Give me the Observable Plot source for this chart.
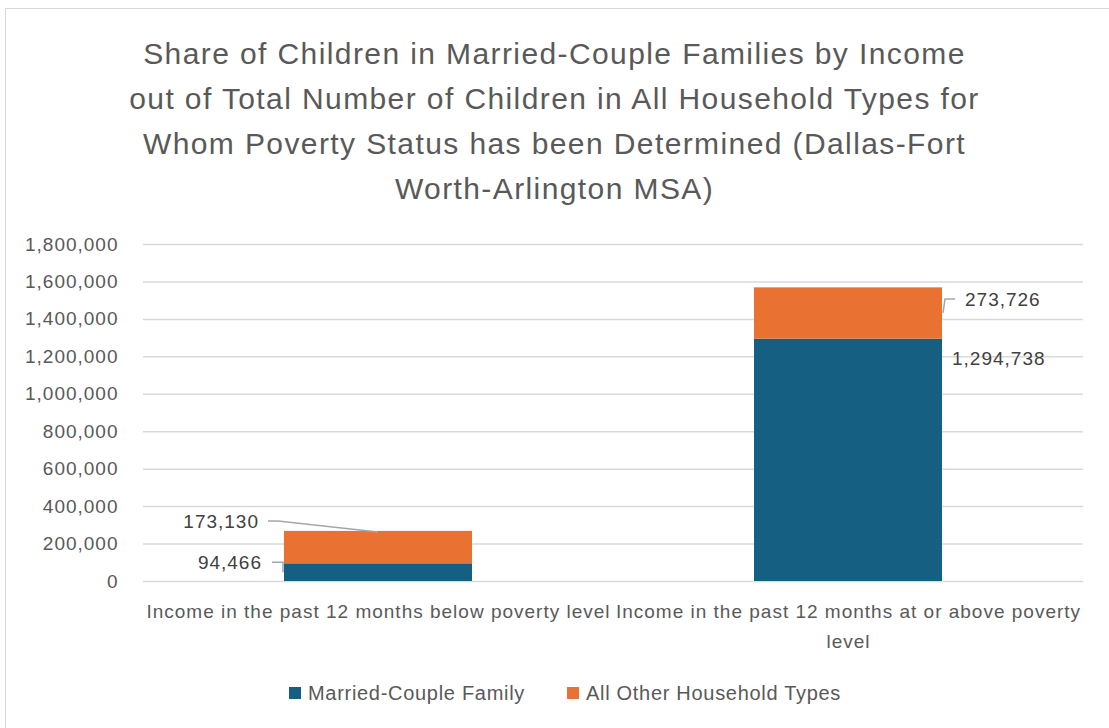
<!DOCTYPE html>
<html><head><meta charset="utf-8">
<script src="https://cdn.jsdelivr.net/npm/d3@7"></script>
<script src="https://cdn.jsdelivr.net/npm/@observablehq/plot@0.6"></script>
<style>
html,body{margin:0;padding:0;background:#fff;overflow:hidden;width:1109px;height:728px;}
#frame{position:absolute;left:5px;top:8px;width:1130px;height:760px;border:1.5px solid #d9d9d9;box-sizing:border-box;}
#title{position:absolute;left:0;top:31px;width:1109px;text-align:center;font-family:"Liberation Sans",Arial,sans-serif;font-size:30px;line-height:45px;color:#595959;letter-spacing:1.4px;}
#chart{position:absolute;left:0;top:225px;}
#legend{position:absolute;left:289px;top:681px;display:flex;align-items:center;font-family:"Liberation Sans",Arial,sans-serif;font-size:20px;color:#595959;letter-spacing:0.7px;line-height:24px;}
.item{display:flex;align-items:center;margin-right:42px;}
.sw{width:12px;height:12px;margin-right:7px;display:inline-block;}
</style></head><body>
<div id="frame"></div>
<div id="title"></div>
<div id="chart"></div>
<div id="legend"></div>
<script>
const titleLines = [
  "Share of Children in Married-Couple Families by Income",
  "out of Total Number of Children in All Household Types for",
  "Whom Poverty Status has been Determined (Dallas-Fort",
  "Worth-Arlington MSA)"
];
const categories = [
  "Income in the past 12 months below poverty level",
  "Income in the past 12 months at or above poverty level"
];
const seriesNames = ["Married-Couple Family", "All Other Household Types"];
const marriedCouple = [94466, 1294738];
const allOtherTypes = [173130, 273726];
const yTicks = [0, 200000, 400000, 600000, 800000, 1000000, 1200000, 1400000, 1600000, 1800000];
const seriesColors = ["#156082", "#E97132"];

document.getElementById("title").innerHTML = titleLines.join("<br>");

const rows = categories.flatMap((c, i) => [
  {category: c, series: seriesNames[0], value: marriedCouple[i]},
  {category: c, series: seriesNames[1], value: allOtherTypes[i]}
]);

const fmt = d3.format(",");
// the second category label wraps its last word onto a second line, as in the original
const wrapLabel = d => d === categories[1] ? d.replace(/ (\S+)$/, "\n$1") : d;

const plot = Plot.plot({
  width: 1109, height: 445,
  marginLeft: 143, marginRight: 26, marginTop: 19, marginBottom: 89,
  style: {fontFamily: "'Liberation Sans', Arial, sans-serif", color: "#595959", background: "transparent", overflow: "visible", letterSpacing: "1px"},
  x: {domain: categories, paddingInner: 0.6, paddingOuter: 0.3, label: null},
  y: {domain: [0, 1800000], label: null},
  color: {domain: seriesNames, range: seriesColors},
  marks: [
    Plot.ruleY(yTicks, {stroke: "#d9d9d9", strokeWidth: 1.5}),
    Plot.barY(rows, {x: "category", y: "value", fill: "series"}),
    Plot.axisY({ticks: yTicks, tickFormat: fmt, tickSize: 0, tickPadding: 25, fontSize: 19, label: null}),
    Plot.axisX({tickSize: 0, tickPadding: 15, fontSize: 19, lineHeight: 1.58, tickFormat: wrapLabel, label: null})
  ]
});
document.getElementById("chart").appendChild(plot);

// data labels with leader lines, positioned through Plot's scales
const xs = plot.scale("x"), ys = plot.scale("y");
const bw = xs.bandwidth;
const svg = d3.select(plot);
const g = svg.append("g");
function label(x, y, text, anchor) {
  g.append("text").attr("x", x).attr("y", y).attr("dy", "0.35em")
    .attr("text-anchor", anchor).attr("font-size", 19).attr("fill", "#404040").text(text);
}
function leader(pts) {
  g.append("path").attr("d", d3.line()(pts)).attr("fill", "none")
    .attr("stroke", "#a6a6a6").attr("stroke-width", 1.5);
}
// bar 1
{
  const x0 = xs.apply(categories[0]), cx = x0 + bw / 2;
  const yTopM = ys.apply(marriedCouple[0]);
  const yMidM = ys.apply(marriedCouple[0] / 2);
  const yTop = ys.apply(marriedCouple[0] + allOtherTypes[0]);
  label(x0 - 22, yTopM - 1, fmt(marriedCouple[0]), "end");
  leader([[x0 - 12, yTopM - 1], [x0 - 1, yTopM - 1], [x0 - 1, yMidM]]);
  label(x0 - 25, yTop - 10, fmt(allOtherTypes[0]), "end");
  leader([[x0 - 16, yTop - 10], [x0 - 6, yTop - 10], [cx, yTop + 1]]);
}
// bar 2
{
  const x1 = xs.apply(categories[1]) + bw;
  const yTopM = ys.apply(marriedCouple[1]);
  const yMidO = ys.apply(marriedCouple[1] + allOtherTypes[1] / 2);
  label(x1 + 23, yMidO - 14, fmt(allOtherTypes[1]), "start");
  leader([[x1 + 13, yMidO - 14], [x1 + 3, yMidO - 14], [x1 + 1, yMidO]]);
  label(x1 + 10, yTopM + 20, fmt(marriedCouple[1]), "start");
}

// legend
const leg = document.getElementById("legend");
seriesNames.forEach((s, i) => {
  const it = document.createElement("div");
  it.className = "item";
  const sw = document.createElement("span");
  sw.className = "sw";
  sw.style.background = plot.scale("color").apply(s);
  it.appendChild(sw);
  it.appendChild(document.createTextNode(s));
  leg.appendChild(it);
});
</script>
</body></html>
